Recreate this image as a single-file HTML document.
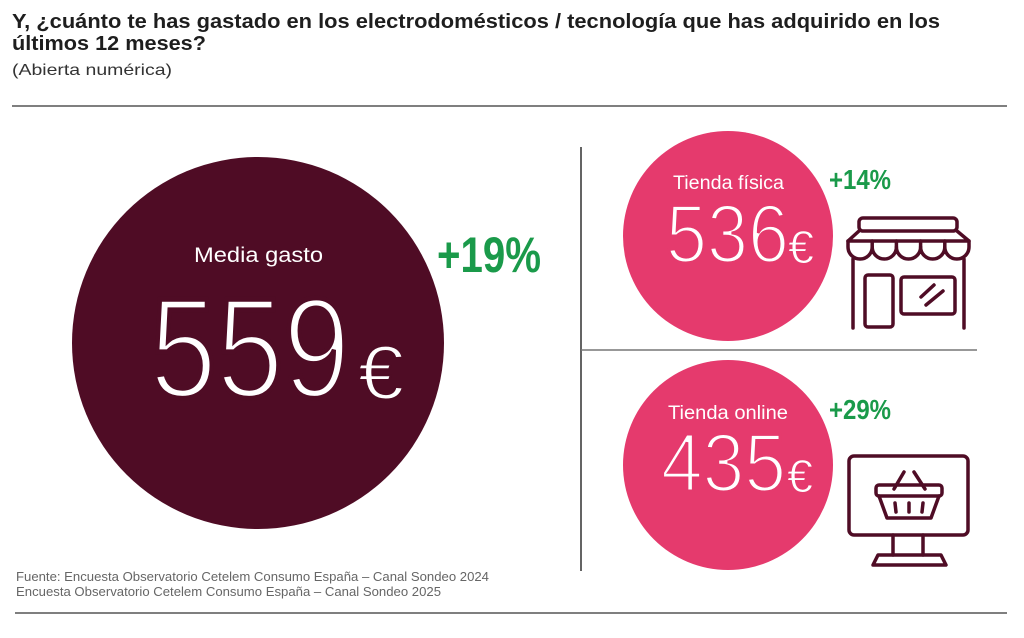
<!DOCTYPE html>
<html><head><meta charset="utf-8"><style>
html,body{margin:0;padding:0;background:#fff;}
svg{display:block;}
text{font-family:"Liberation Sans",sans-serif;}
</style></head><body>
<svg width="1024" height="638" viewBox="0 0 1024 638" xmlns="http://www.w3.org/2000/svg">
<rect width="1024" height="638" fill="#fff"/>
<!-- Title -->
<text x="12" y="28" font-size="20.5" font-weight="bold" fill="#1e1e1e" textLength="928" lengthAdjust="spacingAndGlyphs">Y, ¿cuánto te has gastado en los electrodomésticos / tecnología que has adquirido en los</text>
<text x="12" y="50" font-size="20.5" font-weight="bold" fill="#1e1e1e" textLength="194" lengthAdjust="spacingAndGlyphs">últimos 12 meses?</text>
<text x="12" y="75" font-size="16" fill="#333" textLength="160" lengthAdjust="spacingAndGlyphs">(Abierta numérica)</text>
<line x1="12" y1="106" x2="1007" y2="106" stroke="#555" stroke-width="1.5"/>

<!-- Big circle -->
<circle cx="258" cy="343" r="186" fill="#4f0c25"/>
<text x="194" y="262" font-size="21" fill="#fff" textLength="129" lengthAdjust="spacingAndGlyphs">Media gasto</text>
<text x="150" y="397" font-size="142" fill="#fff" stroke="#4f0c25" stroke-width="5" textLength="200" lengthAdjust="spacingAndGlyphs">559</text>
<text x="358" y="399" font-size="76" fill="#fff" stroke="#4f0c25" stroke-width="2" textLength="46" lengthAdjust="spacingAndGlyphs">€</text>
<text x="437" y="272" font-size="50" font-weight="bold" fill="#1a9a4a" textLength="104" lengthAdjust="spacingAndGlyphs">+19%</text>

<!-- Dividers -->
<line x1="581" y1="147" x2="581" y2="571" stroke="#111" stroke-width="1.3"/>
<line x1="581" y1="350" x2="977" y2="350" stroke="#777" stroke-width="1.5"/>

<!-- Tienda física -->
<circle cx="728" cy="236" r="105" fill="#e53a6d"/>
<text x="673" y="189" font-size="19" fill="#fff" textLength="111" lengthAdjust="spacingAndGlyphs">Tienda física</text>
<text x="666" y="262" font-size="83" fill="#fff" stroke="#e53a6d" stroke-width="3" textLength="123" lengthAdjust="spacingAndGlyphs">536</text>
<text x="788" y="263" font-size="46" fill="#fff" stroke="#e53a6d" stroke-width="1" textLength="26" lengthAdjust="spacingAndGlyphs">€</text>
<text x="829" y="189" font-size="28" font-weight="bold" fill="#1a9a4a" textLength="62" lengthAdjust="spacingAndGlyphs">+14%</text>

<!-- Tienda online -->
<circle cx="728" cy="465" r="105" fill="#e53a6d"/>
<text x="668" y="419" font-size="19" fill="#fff" textLength="120" lengthAdjust="spacingAndGlyphs">Tienda online</text>
<text x="661" y="491" font-size="83" fill="#fff" stroke="#e53a6d" stroke-width="3" textLength="125" lengthAdjust="spacingAndGlyphs">435</text>
<text x="787" y="492" font-size="46" fill="#fff" stroke="#e53a6d" stroke-width="1" textLength="26" lengthAdjust="spacingAndGlyphs">€</text>
<text x="829" y="419" font-size="28" font-weight="bold" fill="#1a9a4a" textLength="62" lengthAdjust="spacingAndGlyphs">+29%</text>

<!-- Store icon -->
<g fill="none" stroke="#4f0c25" stroke-width="3.5" stroke-linecap="round" stroke-linejoin="round">
  <rect x="859" y="218" width="98" height="13" rx="4"/>
  <path d="M859,231 L848,241 L969,241 L957,231"/>
  <path d="M848,241 L848,247 A12.1,12 0 0 0 872.2,247 A12.1,12 0 0 0 896.4,247 A12.1,12 0 0 0 920.6,247 A12.1,12 0 0 0 944.8,247 A12.1,12 0 0 0 969,247 L969,241"/>
  <path d="M872.2,241 V247 M896.4,241 V247 M920.6,241 V247 M944.8,241 V247"/>
  <path d="M853,259 V328 M964,259 V328"/>
  <rect x="865" y="275" width="28" height="52" rx="3"/>
  <rect x="901" y="277" width="54" height="37" rx="3"/>
  <path d="M921,297 L934,285 M926,305 L943,291"/>
</g>

<!-- Monitor icon -->
<g fill="none" stroke="#4f0c25" stroke-width="3.5" stroke-linecap="round" stroke-linejoin="round">
  <rect x="849" y="456" width="119" height="79" rx="5"/>
  <path d="M893,535 V555 M923,535 V555"/>
  <path d="M878,555 H941 L946,565 H873 Z"/>
  <rect x="876" y="485" width="66" height="11" rx="3"/>
  <path d="M879,496 L887,518 H931 L939,496"/>
  <path d="M894,489 L904,472 M914,472 L925,489"/>
  <path d="M895,503 L896,512 M909,503 V512 M923,503 L922,512"/>
</g>

<!-- Footer -->
<text x="16" y="581" font-size="13" fill="#666" textLength="473" lengthAdjust="spacingAndGlyphs">Fuente: Encuesta Observatorio Cetelem Consumo España – Canal Sondeo 2024</text>
<text x="16" y="596" font-size="13" fill="#666" textLength="425" lengthAdjust="spacingAndGlyphs">Encuesta Observatorio Cetelem Consumo España – Canal Sondeo 2025</text>
<line x1="15" y1="613" x2="1007" y2="613" stroke="#555" stroke-width="1.5"/>
</svg>
</body></html>
